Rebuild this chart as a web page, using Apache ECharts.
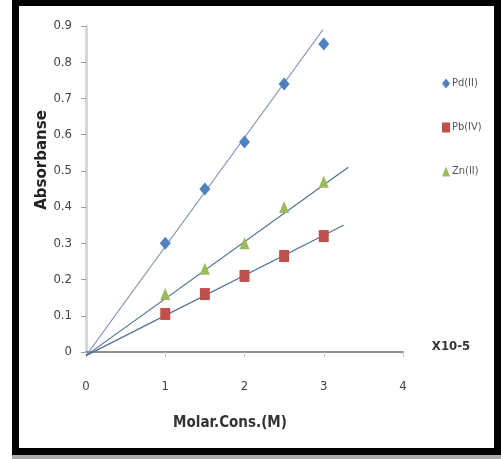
<!DOCTYPE html>
<html>
<head>
<meta charset="utf-8">
<script src="https://cdn.jsdelivr.net/npm/echarts@6/dist/echarts.min.js"></script>
<style>
  html, body { margin: 0; padding: 0; background: #fff; }
  #wrap { position: relative; width: 501px; height: 459px; overflow: hidden; }
  #chart { position: absolute; left: 0; top: 0; width: 501px; height: 459px; }
  #frame {
    position: absolute; left: 12px; top: -1px; width: 489px; height: 456px;
    box-sizing: border-box; border: 7px solid #000;
    box-shadow: 0 4px 0 #a9a9a9; pointer-events: none;
  }
</style>
</head>
<body>
<div id="wrap">
  <div id="chart"></div>
  <div id="frame"></div>
</div>
<script>
// Concentration (x10^-5 M) and measured absorbance for each ion
const concentrations = [1, 1.5, 2, 2.5, 3];
const pdValues = [0.30, 0.45, 0.58, 0.74, 0.85];
const pbValues = [0.105, 0.16, 0.21, 0.265, 0.32];
const znValues = [0.16, 0.23, 0.30, 0.40, 0.47];

// Linear calibration lines: start and end points
const pdFit = [[0, -0.01], [2.99, 0.89]];
const pbFit = [[0, -0.01], [3.25, 0.35]];
const znFit = [[0, -0.01], [3.31, 0.51]];

const xTicks = [0, 1, 2, 3, 4];
const yMax = 0.9;

const seriesNames = ['Pd(II)', 'Pb(IV)', 'Zn(II)'];
const colors = ['#4F81BD', '#C0504D', '#9BBB59'];

const pairs = vals => concentrations.map((c, i) => [c, vals[i]]);

const chart = echarts.init(document.getElementById('chart'));
const narrow = "'Liberation Sans Narrow', 'DejaVu Sans Condensed', sans-serif";

chart.setOption({
  animation: false,
  backgroundColor: '#fff',
  grid: { left: 86, top: 26, width: 317, height: 326, containLabel: false },
  xAxis: {
    type: 'value', min: xTicks[0], max: xTicks[xTicks.length - 1], interval: 1,
    axisLine: { lineStyle: { color: '#6b6b6b', width: 1.5 } },
    axisTick: { show: true, length: 5, lineStyle: { color: '#c8c8c8' } },
    axisLabel: { margin: 28, color: '#444', fontSize: 13, fontFamily: narrow },
    splitLine: { show: false }
  },
  yAxis: {
    type: 'value', min: 0, max: yMax, interval: 0.1,
    axisLine: { show: true, lineStyle: { color: '#d6d6d6', width: 3 } },
    axisTick: { show: true, length: 5, lineStyle: { color: '#9a9a9a' } },
    axisLabel: { margin: 14, color: '#444', fontSize: 13, fontFamily: narrow,
      formatter: v => Math.round(v * 10) / 10 + '' },
    splitLine: { show: false }
  },
  legend: {
    orient: 'vertical', left: 437, top: 73, itemGap: 33,
    itemWidth: 8, itemHeight: 10,
    textStyle: { color: '#555', fontSize: 11, fontFamily: narrow, padding: [0, 0, 0, -3] },
    data: [
      { name: seriesNames[0], icon: 'diamond' },
      { name: seriesNames[1], icon: 'rect' },
      { name: seriesNames[2], icon: 'triangle' }
    ]
  },
  series: [
    { type: 'line', data: pdFit, symbol: 'none', clip: false, silent: true,
      lineStyle: { color: '#8797b5', width: 1.1 }, z: 1 },
    { type: 'line', data: pbFit, symbol: 'none', clip: false, silent: true,
      lineStyle: { color: '#4f6f96', width: 1.2 }, z: 1 },
    { type: 'line', data: znFit, symbol: 'none', clip: false, silent: true,
      lineStyle: { color: '#4f6f96', width: 1.2 }, z: 1 },
    { name: seriesNames[0], type: 'scatter', data: pairs(pdValues),
      symbol: 'diamond', symbolSize: [11, 13], itemStyle: { color: colors[0], opacity: 1 }, z: 3 },
    { name: seriesNames[1], type: 'scatter', data: pairs(pbValues),
      symbol: 'rect', symbolSize: [10, 12], itemStyle: { color: colors[1], opacity: 1 }, z: 3 },
    { name: seriesNames[2], type: 'scatter', data: pairs(znValues),
      symbol: 'triangle', symbolSize: [10, 12], itemStyle: { color: colors[2], opacity: 1 }, z: 3 }
  ],
  graphic: [
    { type: 'text', x: 42, y: 160, rotation: Math.PI / 2,
      style: { text: 'Absorbanse', fill: '#222', font: "bold 15px 'DejaVu Sans', sans-serif",
        align: 'center', verticalAlign: 'middle' } },
    { type: 'text', x: 230, y: 423,
      style: { text: 'Molar.Cons.(M)', fill: '#333', font: "bold 15px " + narrow,
        align: 'center', verticalAlign: 'middle' } },
    { type: 'text', x: 451, y: 347,
      style: { text: 'X10-5', fill: '#333', font: "bold 13px " + narrow,
        align: 'center', verticalAlign: 'middle' } }
  ]
});
</script>
</body>
</html>
